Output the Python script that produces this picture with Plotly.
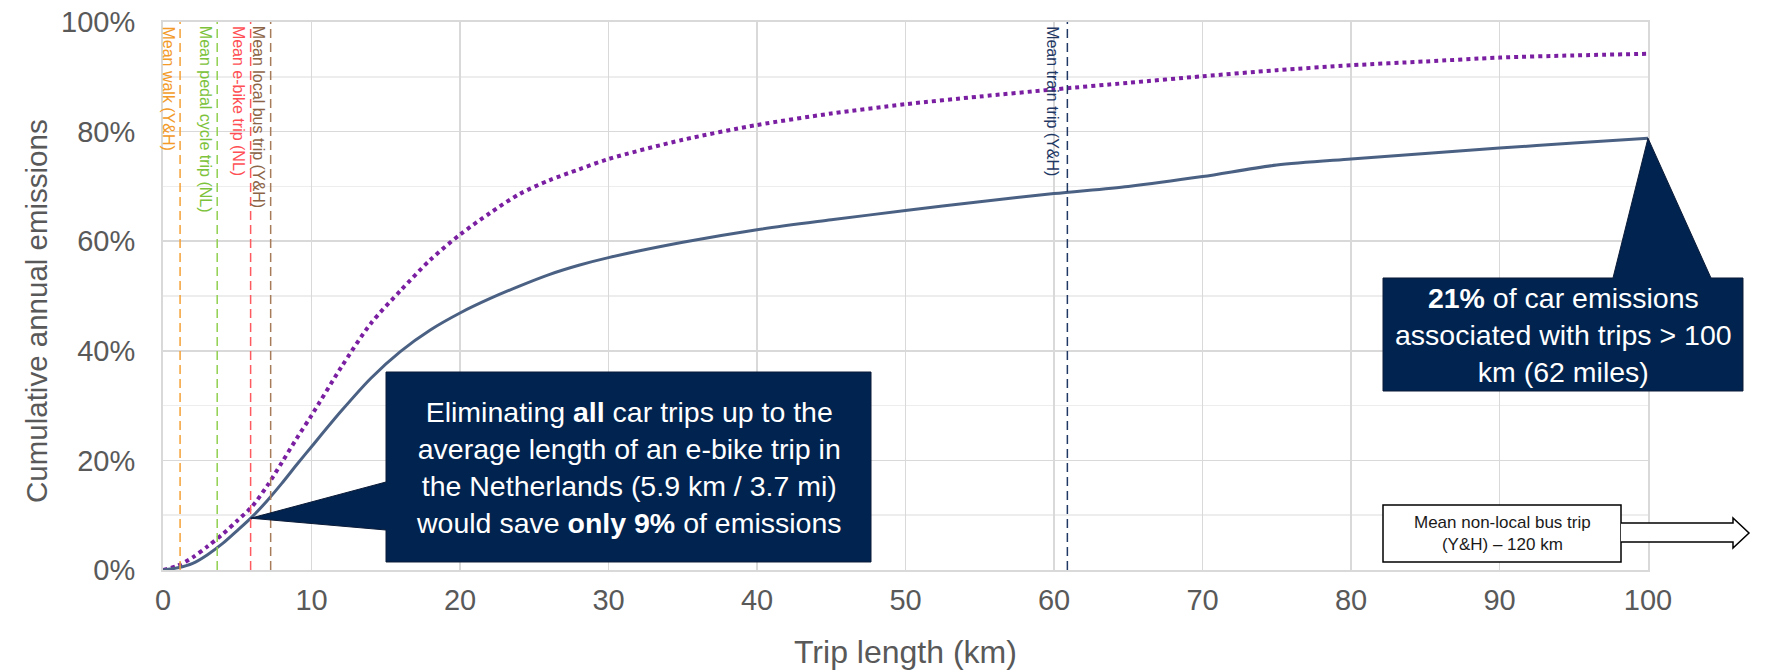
import numpy as np
import plotly.graph_objects as go

# ---------------- data ----------------
trip_km = [0, 1, 2, 3, 4, 5, 6, 7, 8, 9, 10, 12, 14, 16, 18, 20, 22, 24, 26, 28, 30,
           35, 40, 45, 50, 55, 60, 65, 70, 75, 80, 85, 90, 95, 100]
solid_pct = [0, 0.4, 1.2, 2.8, 4.8, 7.2, 9.7, 12.6, 15.8, 19.2, 22.5, 29.0, 35.0, 39.9, 43.8,
             46.9, 49.5, 51.8, 53.9, 55.6, 57.0, 59.8, 62.1, 63.9, 65.6, 67.2, 68.7, 70.0,
             71.8, 73.9, 75.0, 76.0, 77.0, 77.9, 78.8]
dotted_pct = [0, 0.8, 2.3, 4.3, 6.5, 9.0, 11.6, 15.3, 19.6, 24.0, 28.2, 37.0, 45.0, 51.0, 56.6,
              61.2, 65.1, 68.6, 71.1, 73.1, 75.0, 78.5, 81.2, 83.3, 85.0, 86.4, 87.7, 88.9,
              90.1, 91.2, 92.1, 92.8, 93.5, 93.9, 94.2]

mean_labels = ["Mean walk (Y&H)", "Mean pedal cycle trip (NL)", "Mean e-bike trip (NL)",
               "Mean local bus trip (Y&H)", "Mean train trip (Y&H)"]
mean_km = [1.15, 3.65, 5.9, 7.25, 60.9]
mean_colors = ["#F5A035", "#92D050", "#FF5A5F", "#A67C5B", "#1F3864"]
label_colors = ["#F39A28", "#7CC23A", "#FF4F55", "#8C6446", "#1F3864"]

ebike_km = 5.9
long_trip_km = 100

x_tick_vals = list(range(0, 101, 10))
y_tick_vals = [0, 0.2, 0.4, 0.6, 0.8, 1.0]

callout1_text = ("Eliminating <b>all</b> car trips up to the<br>average length of an e-bike trip in"
                 "<br>the Netherlands (5.9 km / 3.7 mi)<br>would save <b>only 9%</b> of emissions")
callout2_text = "<b>21%</b> of car emissions<br>associated with trips > 100<br>km (62 miles)"
arrow_text = "Mean non-local bus trip<br>(Y&H) – 120 km"

# ---------------- layout geometry ----------------
W, H = 1775, 671
PL, PR, PT, PB = 163, 1648, 22, 570
XR = [0, 100]
YR = [0, 1]
FONT = "Liberation Sans, Arial, sans-serif"
NAVY = "#00234F"


def dx(px):
    return (px - PL) / (PR - PL)


def dy(py):
    return (PB - py) / (PB - PT)


def data_to_domain(xv, yv):
    return (xv - XR[0]) / (XR[1] - XR[0]), (yv - YR[0]) / (YR[1] - YR[0])


solid = np.array(solid_pct) / 100
dotted = np.array(dotted_pct) / 100

fig = go.Figure()
fig.add_trace(go.Scatter(x=trip_km, y=dotted, mode="lines",
                         line=dict(color="#7B1FA2", width=4, dash="dot", shape="spline", smoothing=0.8),
                         showlegend=False, hoverinfo="skip"))
fig.add_trace(go.Scatter(x=trip_km, y=solid, mode="lines",
                         line=dict(color="#4B6184", width=3, shape="spline", smoothing=0.8),
                         showlegend=False, hoverinfo="skip"))

shapes = []
annotations = []

# vertical mean lines + labels
for lab, km, c, tc in zip(mean_labels, mean_km, mean_colors, label_colors):
    shapes.append(dict(type="line", xref="x", yref="y", x0=km, x1=km, y0=0, y1=1,
                       line=dict(color=c, width=1.5, dash="9px,5px"), layer="above"))
    annotations.append(dict(text=lab, xref="x", yref="y domain", x=km, y=1,
                            xanchor="right", yanchor="top", textangle=90, showarrow=False,
                            xshift=-1 if km < 50 else -4, yshift=-2,
                            font=dict(family=FONT, size=16, color=tc)))

# callout 1
tip1 = data_to_domain(ebike_km, float(np.interp(ebike_km, trip_km, solid)))
b1 = (dx(386), dy(372), dx(871), dy(562))
p1 = [(b1[0], b1[1]), (b1[2], b1[1]), (b1[2], b1[3]), (b1[0], b1[3]),
      (b1[0], dy(530)), tip1, (b1[0], dy(482))]
shapes.append(dict(type="path", xref="x domain", yref="y domain",
                   path="M " + " L ".join(f"{a:.5f},{b:.5f}" for a, b in p1) + " Z",
                   fillcolor=NAVY, line=dict(color="#0B1B38", width=1), layer="above"))
annotations.append(dict(text=callout1_text, xref="x domain", yref="y domain",
                        x=(b1[0] + b1[2]) / 2, y=(b1[1] + b1[3]) / 2, showarrow=False,
                        xanchor="center", yanchor="middle",
                        font=dict(family=FONT, size=28.5, color="white")))

# callout 2
tip2 = data_to_domain(long_trip_km, float(solid[-1]))
b2 = (dx(1383), dy(278), dx(1743), dy(391))
p2 = [(b2[0], b2[1]), (dx(1613), b2[1]), tip2, (dx(1711), b2[1]), (b2[2], b2[1]),
      (b2[2], b2[3]), (b2[0], b2[3])]
shapes.append(dict(type="path", xref="x domain", yref="y domain",
                   path="M " + " L ".join(f"{a:.5f},{b:.5f}" for a, b in p2) + " Z",
                   fillcolor=NAVY, line=dict(color="#0B1B38", width=1), layer="above"))
annotations.append(dict(text=callout2_text, xref="x domain", yref="y domain",
                        x=(b2[0] + b2[2]) / 2, y=(b2[1] + b2[3]) / 2, showarrow=False,
                        xanchor="center", yanchor="middle",
                        font=dict(family=FONT, size=28.5, color="white")))

# arrow box (non-local bus)
shapes.append(dict(type="rect", xref="x domain", yref="y domain",
                   x0=dx(1383), x1=dx(1621), y0=dy(505), y1=dy(562),
                   fillcolor="white", line=dict(color="black", width=1.5), layer="above"))
arr = [(dx(1621), dy(523)), (dx(1733), dy(523)), (dx(1733), dy(518)), (dx(1749), dy(533)),
       (dx(1733), dy(548)), (dx(1733), dy(542)), (dx(1621), dy(542))]
shapes.append(dict(type="path", xref="x domain", yref="y domain",
                   path="M " + " L ".join(f"{a:.5f},{b:.5f}" for a, b in arr),
                   fillcolor="white", line=dict(color="black", width=1.5), layer="above"))
annotations.append(dict(text=arrow_text, xref="x domain", yref="y domain",
                        x=(dx(1383) + dx(1621)) / 2, y=dy(533), showarrow=False,
                        xanchor="center", yanchor="middle",
                        font=dict(family=FONT, size=17, color="#1a1a1a")))

# axis titles
annotations.append(dict(text="Trip length (km)", xref="x domain", yref="y domain",
                        x=0.5, y=dy(652), showarrow=False, xanchor="center", yanchor="middle",
                        font=dict(family=FONT, size=32, color="#595959")))
annotations.append(dict(text="Cumulative annual emissions", xref="paper", yref="y domain",
                        x=dx(36), y=dy(311), showarrow=False, xanchor="center", yanchor="middle",
                        textangle=-90, font=dict(family=FONT, size=29.5, color="#595959")))

fig.update_layout(
    width=W, height=H, autosize=False,
    margin=dict(l=PL, r=W - PR, t=PT, b=H - PB, pad=0, autoexpand=False),
    plot_bgcolor="white", paper_bgcolor="white",
    font=dict(family=FONT, color="#595959"),
    shapes=shapes, annotations=annotations,
    xaxis=dict(range=XR, tickvals=x_tick_vals, showgrid=True, gridcolor="#D9D9D9", gridwidth=1.5,
               zeroline=False, showline=True, linecolor="#D9D9D9", linewidth=2, mirror=True,
               tickfont=dict(family=FONT, size=29, color="#595959"), ticks="",
               ticklabelstandoff=3, automargin=False),
    yaxis=dict(range=YR, tickvals=y_tick_vals, tickformat=".0%", showgrid=True,
               gridcolor="#D9D9D9", gridwidth=1.5,
               minor=dict(dtick=0.1, showgrid=True, gridcolor="#EDEDED", gridwidth=1.5),
               zeroline=False, showline=True, linecolor="#D9D9D9", linewidth=2, mirror=True,
               tickfont=dict(family=FONT, size=29, color="#595959"), ticks="",
               ticklabelstandoff=20, automargin=False),
)

fig.write_html("out.html", config={"displayModeBar": False, "staticPlot": True},
               post_script="document.body.style.margin='0';document.body.style.overflow='hidden';")
